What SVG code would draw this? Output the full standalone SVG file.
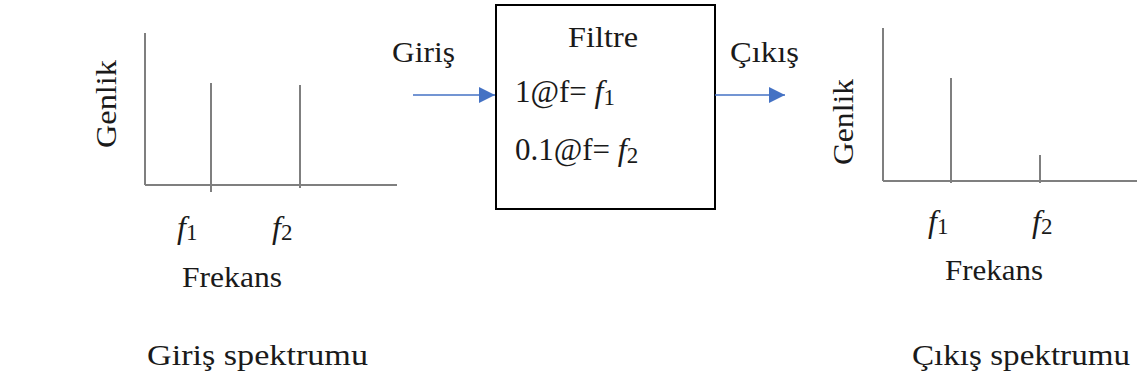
<svg xmlns="http://www.w3.org/2000/svg" width="1138" height="383" viewBox="0 0 1138 383">
<style>
text{font-family:'Liberation Serif','Times New Roman','DejaVu Serif',serif;fill:#1a1a1a;}
.ax{stroke:#7f7f7f;stroke-width:2;fill:none;}
.arr{stroke:#4472C4;stroke-width:1.6;fill:none;}
</style>
<defs>
<marker id="ah" viewBox="0 0 16 16" refX="16" refY="8" markerWidth="16" markerHeight="16" markerUnits="userSpaceOnUse" orient="auto">
<path d="M0,0 L16,8 L0,16 Z" fill="#4472C4"/>
</marker>
</defs>
<rect width="1138" height="383" fill="#fff"/>
<g id="input-spectrum">
<line class="ax" x1="145" y1="33" x2="145" y2="185"/>
<line class="ax" x1="145" y1="185" x2="397" y2="185"/>
<line class="ax" x1="211" y1="83" x2="211" y2="192"/>
<line class="ax" x1="300" y1="85" x2="300" y2="188"/>
<text font-size="30" transform="translate(116,104) rotate(-90)" text-anchor="middle" textLength="88" lengthAdjust="spacingAndGlyphs">Genlik</text>
<text font-size="32" x="177" y="238"><tspan font-style="italic">f</tspan><tspan font-size="23" dy="2">1</tspan></text>
<text font-size="32" x="272" y="238"><tspan font-style="italic">f</tspan><tspan font-size="23" dy="2">2</tspan></text>
<text font-size="30" x="182" y="287" textLength="100" lengthAdjust="spacingAndGlyphs">Frekans</text>
<text font-size="29" x="147" y="365" textLength="221" lengthAdjust="spacingAndGlyphs">Giriş spektrumu</text>
</g>
<g id="filter">
<rect x="496" y="5" width="219" height="204" fill="none" stroke="#000" stroke-width="2"/>
<text font-size="30" x="568" y="47" textLength="70" lengthAdjust="spacingAndGlyphs">Filtre</text>
<text font-size="31" x="515" y="102">1@f= <tspan font-style="italic" font-size="32">f</tspan><tspan font-size="23" dy="3">1</tspan></text>
<text font-size="31" x="515" y="160">0.1@f= <tspan font-style="italic" font-size="32">f</tspan><tspan font-size="23" dy="3">2</tspan></text>
</g>
<g id="output-spectrum">
<line class="ax" x1="883" y1="28" x2="883" y2="181"/>
<line class="ax" x1="883" y1="181" x2="1137" y2="181"/>
<line class="ax" x1="951" y1="78" x2="951" y2="183"/>
<line class="ax" x1="1040" y1="155" x2="1040" y2="183"/>
<text font-size="30" transform="translate(853,122) rotate(-90)" text-anchor="middle" textLength="86" lengthAdjust="spacingAndGlyphs">Genlik</text>
<text font-size="32" x="928" y="232"><tspan font-style="italic">f</tspan><tspan font-size="23" dy="2">1</tspan></text>
<text font-size="32" x="1032" y="232"><tspan font-style="italic">f</tspan><tspan font-size="23" dy="2">2</tspan></text>
<text font-size="30" x="945" y="280" textLength="98" lengthAdjust="spacingAndGlyphs">Frekans</text>
<text font-size="29" x="912" y="365" textLength="218" lengthAdjust="spacingAndGlyphs">Çıkış spektrumu</text>
</g>
<g id="connectors">
<line class="arr" x1="413" y1="95" x2="495" y2="95" marker-end="url(#ah)"/>
<line class="arr" x1="715" y1="95" x2="785" y2="95" marker-end="url(#ah)"/>
<text font-size="30" x="392" y="62" textLength="63" lengthAdjust="spacingAndGlyphs">Giriş</text>
<text font-size="30" x="730" y="62" textLength="69" lengthAdjust="spacingAndGlyphs">Çıkış</text>
</g>
</svg>
